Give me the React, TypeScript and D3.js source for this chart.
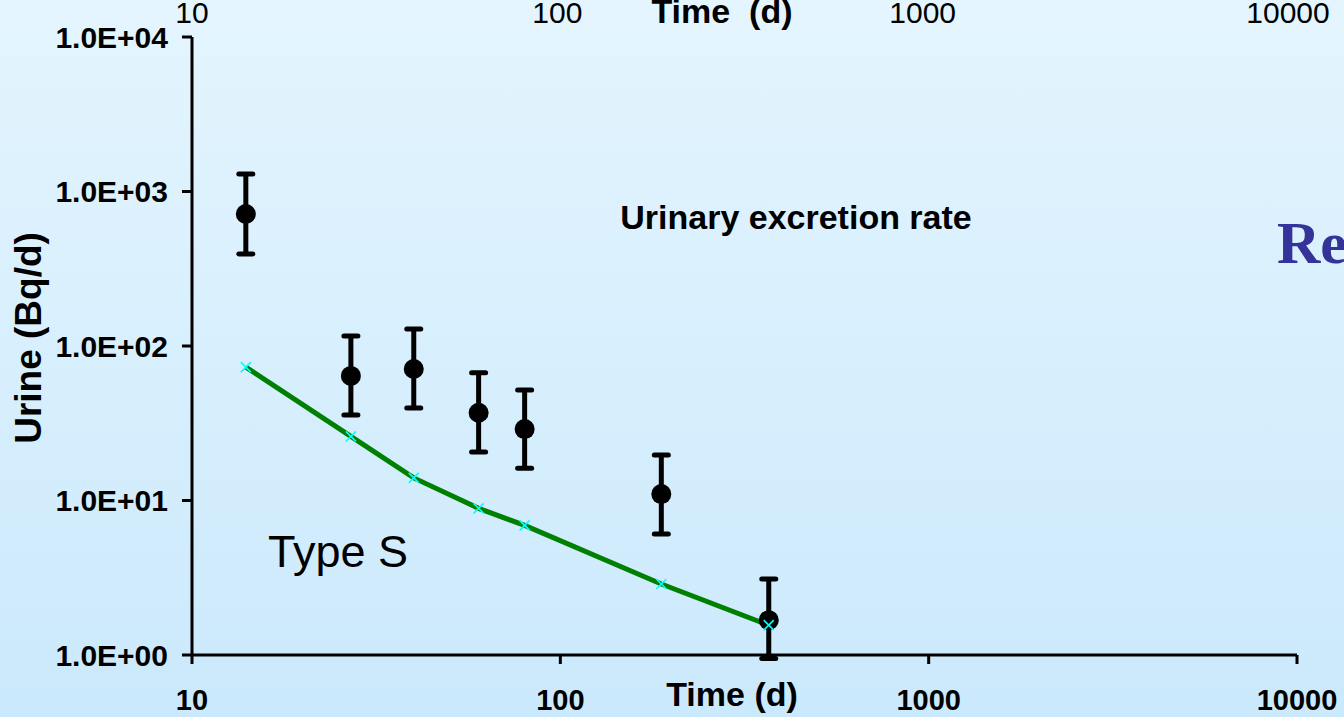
import React from "react";
import * as d3 from "d3";

const times = [14, 27, 40, 60, 80, 188, 368];
const measured = [715, 64, 71, 37, 29, 11, 1.68];
const errHigh = [1298, 116, 129, 67, 52, 19.7, 3.1];
const errLow = [394, 35.7, 39.7, 20.6, 16.2, 6.07, 0.95];
const model = [73, 26, 14, 8.9, 6.9, 2.88, 1.56];

const xTicks = [10, 100, 1000, 10000];
const yTicks = [1, 10, 100, 1000, 10000];
const yTickLabels = ["1.0E+00", "1.0E+01", "1.0E+02", "1.0E+03", "1.0E+04"];
const topTickLabels = ["10", "100", "1000", "10000"];

const W = 1344;
const H = 717;
const FONT = "Arial, 'Liberation Sans', Helvetica, sans-serif";

export default function App() {
  const x = d3.scaleLog().domain([10, 10000]).range([192, 1297]);
  const y = d3.scaleLog().domain([1, 10000]).range([655, 37]);
  const xTop = d3.scaleLog().domain([10, 10000]).range([192, 1288]);

  const line = d3
    .line<number>()
    .x((_, i) => x(times[i]))
    .y((d) => y(d));

  const capW = 7;
  const mk = 5;

  return (
    <svg
      width={W}
      height={H}
      style={{ position: "absolute", left: 0, top: 0, display: "block" }}
    >
      <defs>
        <linearGradient id="bg" x1="0" y1="0" x2="0" y2="1">
          <stop offset="0%" stopColor="#e4f5fe" />
          <stop offset="100%" stopColor="#cbe9fc" />
        </linearGradient>
      </defs>
      <rect x={0} y={0} width={W} height={H} fill="url(#bg)" />

      {/* top leftover axis labels (partly clipped, as in the reference) */}
      {xTicks.map((t, i) => (
        <text
          key={"tt" + t}
          x={xTop(t)}
          y={23}
          textAnchor="middle"
          fontFamily={FONT}
          fontSize={30}
          fill="#000"
        >
          {topTickLabels[i]}
        </text>
      ))}
      <text
        x={722}
        y={23}
        textAnchor="middle"
        fontFamily={FONT}
        fontSize={34}
        fontWeight="bold"
        fill="#000"
        style={{ whiteSpace: "pre" }}
      >
        {"Time  (d)"}
      </text>

      {/* axes */}
      <line x1={x(10)} x2={x(10)} y1={y(10000)} y2={y(1)} stroke="#000" strokeWidth={3} />
      <line x1={x(10)} x2={x(10000)} y1={y(1)} y2={y(1)} stroke="#000" strokeWidth={3} />
      {yTicks.map((t, i) => (
        <g key={"yt" + t}>
          <line x1={x(10) - 10} x2={x(10)} y1={y(t)} y2={y(t)} stroke="#000" strokeWidth={3} />
          <text
            x={168}
            y={y(t)}
            dy="0.36em"
            textAnchor="end"
            fontFamily={FONT}
            fontSize={30}
            fontWeight="bold"
            fill="#000"
          >
            {yTickLabels[i]}
          </text>
        </g>
      ))}
      {xTicks.map((t) => (
        <g key={"xt" + t}>
          <line x1={x(t)} x2={x(t)} y1={y(1)} y2={y(1) + 9} stroke="#000" strokeWidth={3} />
          <text
            x={x(t)}
            y={710}
            textAnchor="middle"
            fontFamily={FONT}
            fontSize={29}
            fontWeight="bold"
            fill="#000"
          >
            {t}
          </text>
        </g>
      ))}
      <text
        x={732}
        y={706}
        textAnchor="middle"
        fontFamily={FONT}
        fontSize={34}
        fontWeight="bold"
        fill="#000"
      >
        Time (d)
      </text>
      <text
        transform={`translate(41,338) rotate(-90)`}
        textAnchor="middle"
        fontFamily={FONT}
        fontSize={37}
        fontWeight="bold"
        fill="#000"
      >
        Urine (Bq/d)
      </text>

      {/* model line */}
      <path d={line(model) || ""} fill="none" stroke="#008000" strokeWidth={5} />

      {/* measurements */}
      {times.map((t, i) => (
        <g key={"m" + i}>
          <line x1={x(t)} x2={x(t)} y1={y(errHigh[i])} y2={y(errLow[i])} stroke="#000" strokeWidth={5} />
          <line
            x1={x(t) - capW}
            x2={x(t) + capW}
            y1={y(errHigh[i])}
            y2={y(errHigh[i])}
            stroke="#000"
            strokeWidth={5}
            strokeLinecap="round"
          />
          <line
            x1={x(t) - capW}
            x2={x(t) + capW}
            y1={y(errLow[i])}
            y2={y(errLow[i])}
            stroke="#000"
            strokeWidth={5}
            strokeLinecap="round"
          />
          <circle cx={x(t)} cy={y(measured[i])} r={10} fill="#000" />
        </g>
      ))}

      {/* model markers */}
      {times.map((t, i) => (
        <path
          key={"k" + i}
          d={`M${x(t) - mk},${y(model[i]) - mk}L${x(t) + mk},${y(model[i]) + mk}M${x(t) - mk},${y(model[i]) + mk}L${x(t) + mk},${y(model[i]) - mk}`}
          stroke="#00ffff"
          strokeWidth={1.6}
          fill="none"
        />
      ))}

      <text
        x={796}
        y={229}
        textAnchor="middle"
        fontFamily={FONT}
        fontSize={34}
        fontWeight="bold"
        fill="#000"
      >
        Urinary excretion rate
      </text>
      <text x={268} y={567} fontFamily={FONT} fontSize={45} fill="#000">
        Type S
      </text>
      <text
        x={1277}
        y={263}
        fontFamily="'Times New Roman', 'Liberation Serif', serif"
        fontSize={60}
        fontWeight="bold"
        fill="#333399"
      >
        Re
      </text>
    </svg>
  );
}
